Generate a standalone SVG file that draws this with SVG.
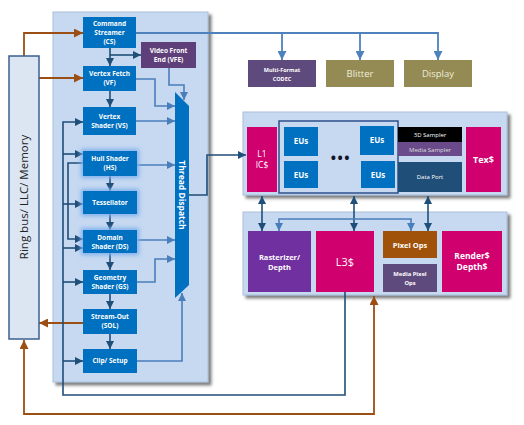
<svg xmlns="http://www.w3.org/2000/svg" width="524" height="425" viewBox="0 0 524 425">
<defs>
<style>
.t{font-family:"Open Sans","Liberation Sans",sans-serif;fill:#fff;text-anchor:middle}
.b{font-weight:bold}
.box{fill:#0070c0}
.pan{fill:#c6d9f1;stroke:#a9bfdb;stroke-width:1}
.cd{fill:none;stroke:#1f4e79;stroke-width:1.6}
.cl{fill:none;stroke:#4a7ebb;stroke-width:1.6}
.cm{fill:none;stroke:#4f81bd;stroke-width:1.8}
.cb{fill:none;stroke:#9c4f14;stroke-width:1.8}
</style>
<filter id="sh" x="-10%" y="-10%" width="125%" height="125%"><feDropShadow dx="3" dy="3" stdDeviation="1.5" flood-color="#444" flood-opacity="0.7"/></filter>
<filter id="glow" x="-40%" y="-40%" width="180%" height="180%"><feMorphology in="SourceAlpha" operator="dilate" radius="1.5" result="d"/><feGaussianBlur in="d" stdDeviation="2" result="bl"/><feFlood flood-color="#7fb0ee"/><feComposite in2="bl" operator="in" result="g"/><feMerge><feMergeNode in="g"/><feMergeNode in="SourceGraphic"/></feMerge></filter>
<marker id="ad" viewBox="0 0 10 10" refX="10" refY="5" markerWidth="8" markerHeight="8" markerUnits="userSpaceOnUse" orient="auto-start-reverse"><path d="M0,0 L10,5 L0,10z" fill="#1f4e79"/></marker>
<marker id="al" viewBox="0 0 10 10" refX="10" refY="5" markerWidth="8" markerHeight="8" markerUnits="userSpaceOnUse" orient="auto-start-reverse"><path d="M0,0 L10,5 L0,10z" fill="#4a7ebb"/></marker>
<marker id="am" viewBox="0 0 10 10" refX="10" refY="5" markerWidth="9" markerHeight="9" markerUnits="userSpaceOnUse" orient="auto-start-reverse"><path d="M0,0 L10,5 L0,10z" fill="#4f81bd"/></marker>
<marker id="ab" viewBox="0 0 10 10" refX="10" refY="5" markerWidth="9" markerHeight="9" markerUnits="userSpaceOnUse" orient="auto-start-reverse"><path d="M0,0 L10,5 L0,10z" fill="#9c4f14"/></marker>
</defs>
<rect width="524" height="425" fill="#fff"/>

<!-- panels -->
<g id="left-panel"><rect class="pan" x="53" y="12" width="155" height="370" filter="url(#sh)"/></g>
<g id="eu-panel"><rect class="pan" x="243" y="112" width="264" height="83" filter="url(#sh)"/></g>
<g id="pix-panel"><rect class="pan" x="243" y="212" width="264" height="83" filter="url(#sh)"/></g>

<!-- connectors -->
<g id="connectors">
<path class="cm" d="M136,33 H438 V60" marker-end="url(#am)"/>
<path class="cm" d="M282,33 V60" marker-end="url(#am)"/>
<path class="cm" d="M360,33 V60" marker-end="url(#am)"/>

<path class="cb" d="M24,56 V33 H83" marker-end="url(#ab)"/>
<path class="cb" d="M39,78 H83" marker-end="url(#ab)"/>
<path class="cb" d="M83,323 H39" marker-end="url(#ab)"/>
<path class="cb" d="M24,340 V414 H374 V296" marker-start="url(#ab)" marker-end="url(#ab)"/>

<path class="cd" d="M110,48 V66" marker-end="url(#ad)"/>
<path class="cd" d="M110,55 H141" marker-end="url(#ad)"/>
<path class="cd" d="M110,91 V107" marker-end="url(#ad)"/>
<path class="cd" d="M110,176 V191" marker-end="url(#ad)"/>
<path class="cd" d="M110,214 V230" marker-end="url(#ad)"/>
<path class="cd" d="M110,253 V270" marker-end="url(#ad)"/>
<path class="cd" d="M110,294 V309" marker-end="url(#ad)"/>
<path class="cd" d="M110,334 V349" marker-end="url(#ad)"/>
<path class="cd" d="M345,292 V395 H63 V122 H83" marker-end="url(#ad)"/>
<path class="cd" d="M63,154 H83" marker-end="url(#ad)"/>
<path class="cd" d="M63,204 H83" marker-end="url(#ad)"/>
<path class="cd" d="M63,248 H83" marker-end="url(#ad)"/>
<path class="cd" d="M63,282 H83" marker-end="url(#ad)"/>
<path class="cd" d="M63,361 H83" marker-end="url(#ad)"/>
<path class="cd" d="M83,163 H68 V239 H83" marker-end="url(#ad)"/>
<path class="cd" d="M189,195 H207 V155 H246" marker-end="url(#ad)"/>
<path class="cd" d="M262,196 V231" marker-start="url(#ad)" marker-end="url(#ad)"/>
<path class="cd" d="M354,196 V231" marker-start="url(#ad)" marker-end="url(#ad)"/>
<path class="cd" d="M428,196 V231" marker-start="url(#ad)" marker-end="url(#ad)"/>

<path class="cl" d="M136,79 H155 V106 H175" marker-end="url(#al)"/>
<path class="cl" d="M136,121 H175" marker-end="url(#al)"/>
<path class="cl" d="M169,68 V85 H184 V100" marker-end="url(#al)"/>
<path class="cl" d="M137,165 H175" marker-end="url(#al)"/>
<path class="cl" d="M137,240 H175" marker-end="url(#al)"/>
<path class="cl" d="M137,282 H155 V259 H175" marker-end="url(#al)"/>
<path class="cl" d="M137,361 H182 V293" marker-end="url(#al)"/>
<path class="cl" d="M279,231 V219 H411 V231" marker-start="url(#al)" marker-end="url(#al)"/>
</g>

<!-- ring bus -->
<g id="ring-bus">
<rect x="9" y="56" width="30" height="283" fill="#dce6f2" stroke="#3d5f8f" stroke-width="1.5"/>
<text class="t" transform="translate(28,197) rotate(-90)" style="fill:#222;font-size:11.5px">Ring bus/ LLC/ Memory</text>
</g>

<!-- left pipeline -->
<g id="cs"><rect class="box" x="83" y="17" width="53" height="31"/>
<text class="t b" font-size="6.5"><tspan x="109.5" y="26">Command</tspan><tspan x="109.5" y="35">Streamer</tspan><tspan x="109.5" y="44">(CS)</tspan></text></g>
<g id="vfe"><rect x="141" y="42" width="55" height="26" fill="#5f3f7a"/>
<text class="t b" font-size="6.5"><tspan x="168.5" y="53">Video Front</tspan><tspan x="168.5" y="62">End (VFE)</tspan></text></g>
<g id="vf"><rect class="box" x="83" y="66" width="53" height="25"/>
<text class="t b" font-size="6.5"><tspan x="109.5" y="76">Vertex Fetch</tspan><tspan x="109.5" y="85">(VF)</tspan></text></g>
<g id="vs"><rect class="box" x="83" y="107" width="53" height="28"/>
<text class="t b" font-size="6.5"><tspan x="109.5" y="119">Vertex</tspan><tspan x="109.5" y="128">Shader (VS)</tspan></text></g>
<g id="hs"><rect class="box" x="83" y="151" width="54" height="25" filter="url(#glow)"/>
<text class="t b" font-size="6.5"><tspan x="110" y="161">Hull Shader</tspan><tspan x="110" y="170">(HS)</tspan></text></g>
<g id="tess"><rect class="box" x="83" y="191" width="54" height="23" filter="url(#glow)"/>
<text class="t b" font-size="6.5" x="110" y="205">Tessellator</text></g>
<g id="ds"><rect class="box" x="83" y="230" width="54" height="23" filter="url(#glow)"/>
<text class="t b" font-size="6.5"><tspan x="110" y="240">Domain</tspan><tspan x="110" y="249">Shader (DS)</tspan></text></g>
<g id="gs"><rect class="box" x="83" y="270" width="54" height="24"/>
<text class="t b" font-size="6.5"><tspan x="110" y="280">Geometry</tspan><tspan x="110" y="289">Shader (GS)</tspan></text></g>
<g id="sol"><rect class="box" x="83" y="309" width="54" height="25"/>
<text class="t b" font-size="6.5"><tspan x="110" y="319">Stream-Out</tspan><tspan x="110" y="328">(SOL)</tspan></text></g>
<g id="clip"><rect class="box" x="83" y="349" width="54" height="24"/>
<text class="t b" font-size="6.5" x="110" y="363">Clip/ Setup</text></g>
<g id="thread-dispatch"><polygon points="175,92 189,106 189,285 175,298" fill="#0070c0"/>
<text class="t b" transform="translate(179,195) rotate(90)" font-size="8.5">Thread Dispatch</text></g>

<!-- top fixed function -->
<g id="codec"><rect x="248" y="60" width="68" height="27" fill="#5f4a7d"/>
<text class="t b" font-size="5.5"><tspan x="282" y="72">Multi-Format</tspan><tspan x="282" y="81">CODEC</tspan></text></g>
<g id="blitter"><rect x="326" y="60" width="68" height="27" fill="#948a54"/>
<text class="t" font-size="9.5" x="360" y="77" style="fill:#eeeeda">Blitter</text></g>
<g id="display"><rect x="404" y="60" width="68" height="27" fill="#948a54"/>
<text class="t" font-size="9.5" x="438" y="77" style="fill:#eeeeda">Display</text></g>

<!-- EU panel -->
<g id="l1"><rect x="247" y="127" width="30" height="65" fill="#d0006f"/>
<text class="t" font-size="8.5"><tspan x="262" y="157">L1</tspan><tspan x="262" y="168">IC$</tspan></text></g>
<g id="eu-cluster"><rect x="279" y="121" width="119" height="72" fill="#c6d9f1" stroke="#2e4f8a" stroke-width="1.5"/>
<rect class="box" x="284" y="127" width="34" height="29"/><text class="t b" font-size="8" x="301" y="144">EUs</text>
<rect class="box" x="284" y="161" width="34" height="27"/><text class="t b" font-size="8" x="301" y="178">EUs</text>
<rect class="box" x="360" y="126" width="34" height="29"/><text class="t b" font-size="8" x="377" y="143">EUs</text>
<rect class="box" x="361" y="161" width="34" height="27"/><text class="t b" font-size="8" x="378" y="178">EUs</text>
<text class="t b" font-size="14" x="341" y="163" letter-spacing="1.5" style="fill:#141428">•••</text></g>
<g id="sampler3d"><rect x="398" y="127" width="64" height="15" fill="#000"/>
<text class="t" font-size="6" x="430" y="137">3D Sampler</text></g>
<g id="media-sampler"><rect x="398" y="142" width="64" height="14" fill="#6a4a8a"/>
<text class="t" font-size="6" x="430" y="152" style="fill:#ddd">Media Sampler</text></g>
<g id="data-port"><rect x="398" y="162" width="64" height="30" fill="#1f4e79"/>
<text class="t" font-size="6" x="430" y="179">Data Port</text></g>
<g id="tex"><rect x="466" y="127" width="35" height="65" fill="#d0006f"/>
<text class="t b" font-size="9" x="483.5" y="163">Tex$</text></g>

<!-- pixel panel -->
<g id="rasterizer"><rect x="248" y="231" width="63" height="61" fill="#7030a0"/>
<text class="t b" font-size="7.5"><tspan x="279.5" y="260">Rasterizer/</tspan><tspan x="279.5" y="270">Depth</tspan></text></g>
<g id="l3"><rect x="316" y="231" width="58" height="61" fill="#d0006f"/>
<text class="t" font-size="11" x="345" y="266">L3$</text></g>
<g id="pixel-ops"><rect x="383" y="231" width="54" height="27" fill="#a0520a"/>
<text class="t b" font-size="7.5" x="410" y="248">Pixel Ops</text></g>
<g id="media-pixel-ops"><rect x="383" y="264" width="54" height="28" fill="#5f4a7d"/>
<text class="t b" font-size="5.8"><tspan x="410" y="276">Media Pixel</tspan><tspan x="410" y="285">Ops</tspan></text></g>
<g id="render"><rect x="442" y="231" width="60" height="61" fill="#d0006f"/>
<text class="t b" font-size="8.5"><tspan x="472" y="259">Render$</tspan><tspan x="472" y="270">Depth$</tspan></text></g>
</svg>
